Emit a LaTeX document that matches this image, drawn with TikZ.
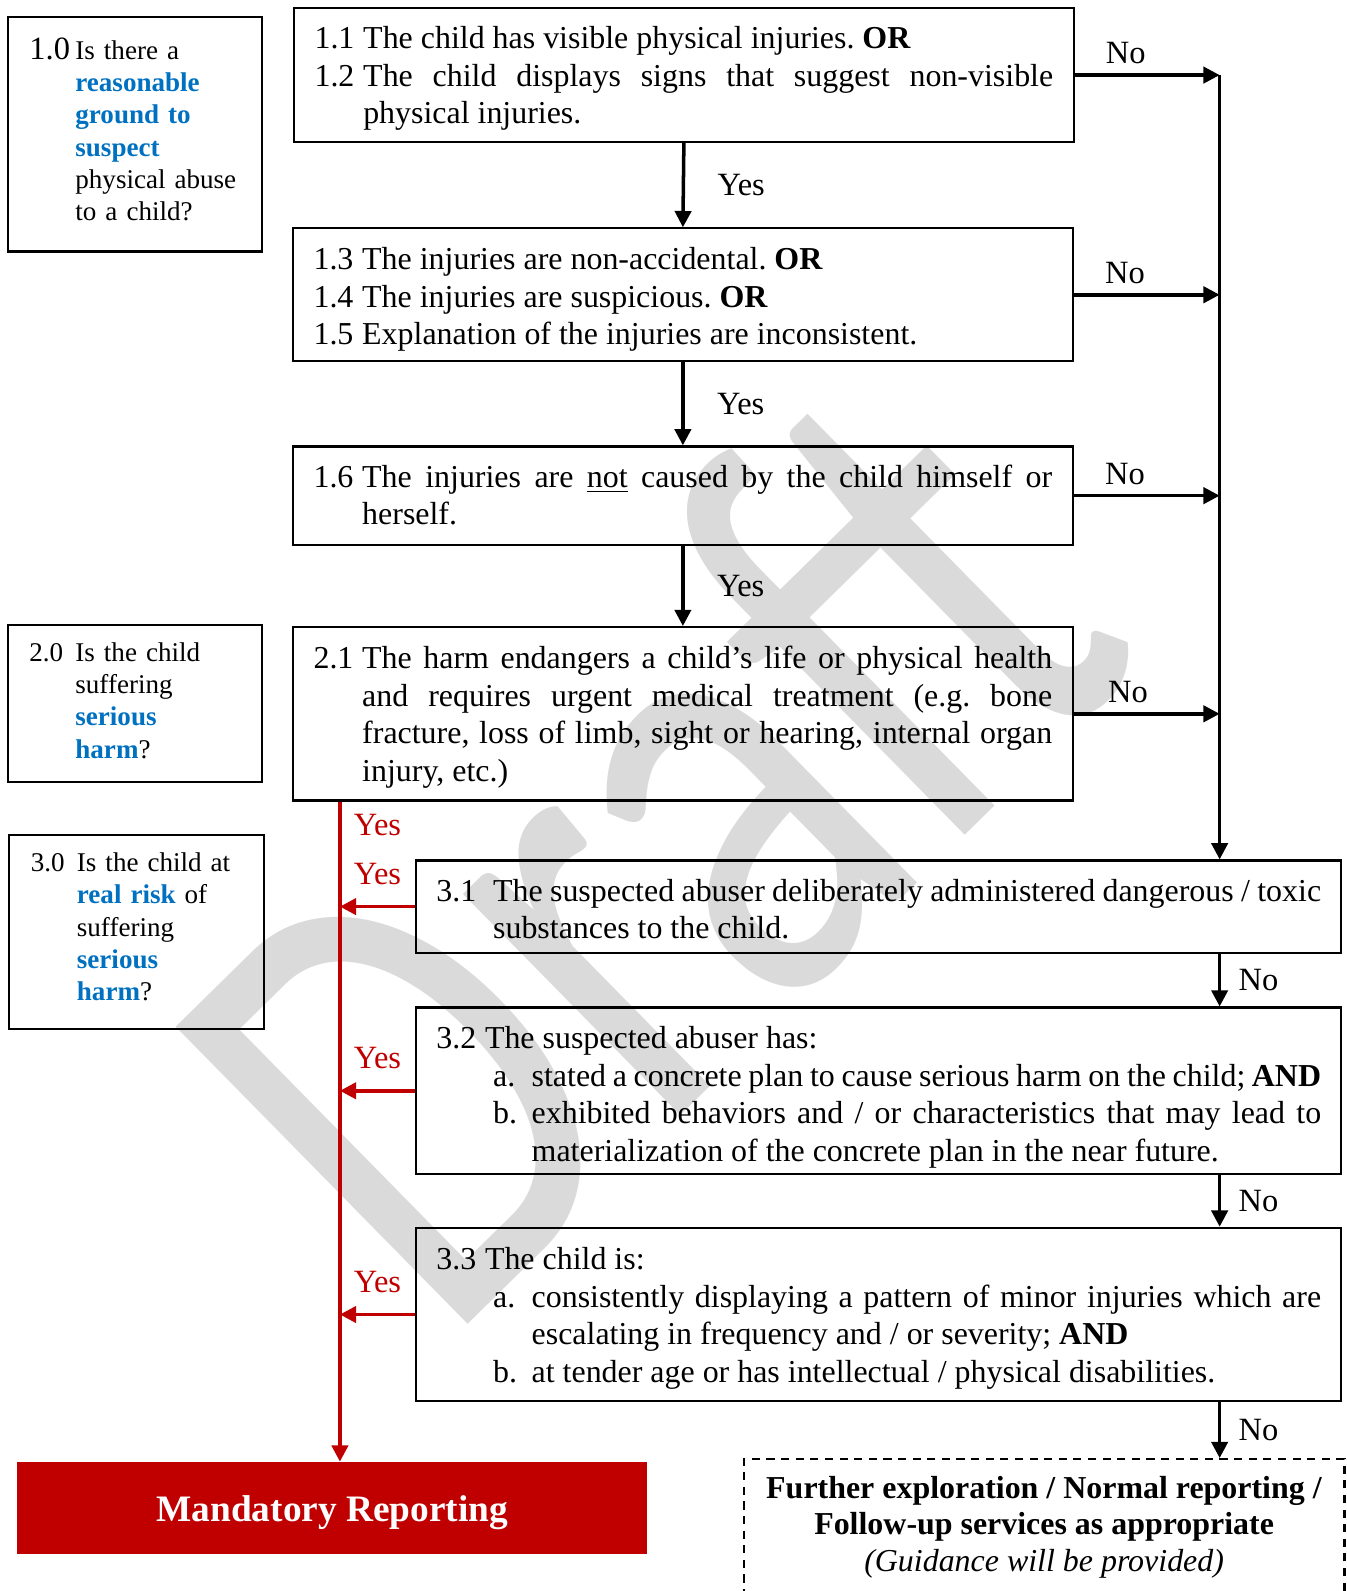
\documentclass[tikz,border=0pt]{standalone}
\usepackage{fontspec}
\setmainfont{Liberation Serif}
\newfontfamily\wmfont[FakeStretch=0.75]{Carlito}
\usetikzlibrary{positioning,arrows.meta}

\definecolor{keyblue}{RGB}{0,112,192}
\definecolor{mrred}{RGB}{192,0,0}
\definecolor{wmgray}{RGB}{218,218,218}

\hyphenpenalty=10000
\exhyphenpenalty=10000
\frenchspacing

\newcommand{\kw}[1]{\textcolor{keyblue}{\textbf{#1}}}
\newcommand{\itm}[3][18pt]{\par\noindent\hangindent=#1\hangafter=1\makebox[#1][l]{#2}#3\par}
\newcommand{\subitm}[2]{\par\noindent\hangindent=35.25pt\hangafter=1\makebox[35.25pt][l]{\hspace{21pt}#1}#2\par}
\newcommand{\tail}[1]{\par\nointerlineskip\vskip#1\hbox{}}

\tikzset{
  mbox/.style={draw, line width=0.8pt, text width=273pt, minimum width=288.4pt,
    inner xsep=7.7pt, inner ysep=0pt, align=justify, font=\fontsize{11.8}{13.9}\selectfont},
  wbox/.style={mbox, text width=327pt, minimum width=342pt, inner xsep=7.5pt},
  qbox/.style={draw, line width=0.9pt, text width=78pt, minimum width=93.75pt,
    inner xsep=7.8pt, inner ysep=0pt, align=left, font=\fontsize{10}{11.9}\selectfont},
  mrbox/.style={fill=mrred, text=white, minimum width=232.9pt, minimum height=34.1pt,
    inner sep=0pt, text depth=0pt, font=\fontsize{13.8}{16}\selectfont\bfseries},
  fubox/.style={draw, dashed, dash pattern=on 3pt off 2.4pt, line width=0.8pt,
    minimum width=222pt, minimum height=75pt, anchor=north},
  futext/.style={align=center, inner sep=0pt, font=\fontsize{11.8}{13.5}\selectfont},
  arr/.style={line width=1.3pt, -{Triangle[length=6pt,width=6pt]}},
  redarr/.style={arr, color=mrred},
  lbl/.style={inner sep=0pt},
  redlbl/.style={lbl, text=mrred},
  wmark/.style={text=wmgray, font=\wmfont\fontsize{240}{240}\selectfont,
    rotate=44.5, anchor=base, inner sep=0pt},
}

\begin{document}
\begin{tikzpicture}[x=0.375pt, y=-0.375pt, font=\fontsize{12}{13.9}\selectfont]
\useasboundingbox (0,0) rectangle (1327.5,1568);

% watermark
\node[wmark] (wm) at (786,986) {Draft};

% questions on the left
\node[qbox, minimum height=86.6pt] (l10) at (133,132.5) {\noindent\makebox[17pt][l]{\fontsize{12}{11.9}\selectfont 1.0}Is there a\par
  \leftskip=17pt \kw{reasonable}\par \kw{ground to}\par \kw{suspect}\par physical abuse\par to a child?\tail{3.75pt}};
\node[qbox, minimum height=58.1pt] (l20) at (133,693.5) {\noindent\makebox[17pt][l]{2.0}Is the child\par
  \leftskip=17pt suffering\par \kw{serious}\par \kw{harm}?\tail{2.25pt}};
\node[qbox, minimum height=71.6pt, minimum width=94.1pt] (l30) at (134.5,918.5) {\noindent\makebox[17pt][l]{3.0}Is the child at\par
  \leftskip=17pt \kw{real risk} of\par suffering\par \kw{serious}\par \kw{harm}?\tail{3.75pt}};

% criteria
\node[mbox, minimum height=49.5pt] (q11) at (674,74) {%
  \itm{1.1}{The child has visible physical injuries. \textbf{OR}}%
  \itm{1.2}{The child displays signs that suggest non-visible\linebreak physical injuries.}\tail{3pt}};
\node[mbox, minimum height=49.1pt] (q13) at (673,290.5) {%
  \itm{1.3}{The injuries are non-accidental. \textbf{OR}}%
  \itm{1.4}{The injuries are suspicious. \textbf{OR}}%
  \itm{1.5}{Explanation of the injuries are inconsistent.}\tail{2.25pt}};
\node[mbox, minimum height=36.4pt] (q16) at (673,488.5) {%
  \itm{1.6}{The injuries are \underline{not} caused by the child himself or\linebreak herself.}\tail{6pt}};
\node[mbox, minimum height=64.1pt] (q21) at (673,703.5) {%
  \itm{2.1}{The harm endangers a child's life or physical health\linebreak and requires urgent medical treatment (e.g. bone\linebreak fracture, loss of limb, sight or hearing, internal organ\linebreak injury, etc.)}\tail{3pt}};
\node[wbox, minimum height=34.1pt] (q31) at (866,893.5) {%
  \itm[21pt]{3.1}{The suspected abuser deliberately administered dangerous / toxic\linebreak substances to the child.}\tail{3.75pt}};
\node[wbox, minimum height=61.5pt] (q32) at (866,1075) {%
  \itm{3.2}{The suspected abuser has:}%
  \subitm{a.}{stated a concrete plan to cause serious harm on the child; \textbf{AND}}%
  \subitm{b.}{exhibited behaviors and / or characteristics that may lead to\linebreak materialization of the concrete plan in the near future.}\tail{0.75pt}};
\node[wbox, minimum height=64.1pt] (q33) at (866,1295.5) {%
  \itm{3.3}{The child is:}%
  \subitm{a.}{consistently displaying a pattern of minor injuries which are\linebreak escalating in frequency and / or severity; \textbf{AND}}%
  \subitm{b.}{at tender age or has intellectual / physical disabilities.}\tail{3pt}};

% outcomes
\node[mrbox] (mr) at (327.5,1486.5) {Mandatory Reporting};
\node[fubox] (fu) at (1029,1437) {};
\node[futext] (fut) at (1029,1505) {\textbf{Further exploration / Normal reporting /}\\
  \textbf{Follow-up services as appropriate}\\ \textit{(Guidance will be provided)}};

% rails
\coordinate (rt) at (1202,74);
\coordinate (rl) at (335,0);

% yes path
\draw[arr] (q11.south) -- node[lbl, right=12pt] {Yes} (q13.north);
\draw[arr] (q13.south) -- node[lbl, right=12pt] {Yes} (q16.north);
\draw[arr] (q16.south) -- node[lbl, right=12pt] {Yes} (q21.north);

% no path
\draw[arr] (q11.east) -- node[lbl, pos=0.35, above=3.5pt] {No} (q11.east -| rt);
\draw[arr] (q13.east) -- node[lbl, pos=0.35, above=3.5pt] {No} (q13.east -| rt);
\draw[arr] (q16.east) -- node[lbl, pos=0.35, above=3.5pt] {No} (q16.east -| rt);
\draw[arr] (q21.east) -- node[lbl, pos=0.37, above=3.5pt] {No} (q21.east -| rt);
\draw[arr] (rt) -- (q31.north -| rt);
\draw[arr] (q31.south -| rt) -- node[lbl, right=6.4pt] {No} (q32.north -| rt);
\draw[arr] (q32.south -| rt) -- node[lbl, right=6.4pt] {No} (q33.north -| rt);
\draw[arr] (q33.south -| rt) -- node[lbl, right=6.4pt] {No} (fu.north -| rt);

% mandatory reporting
\draw[redarr] (q21.south -| rl) -- node[redlbl, pos=0.036, right=4.5pt] {Yes} (mr.north -| rl);
\draw[redarr] (q31.west) -- node[redlbl, above=7.5pt] {Yes} (q31.west -| rl);
\draw[redarr] (q32.west) -- node[redlbl, above=7.5pt] {Yes} (q32.west -| rl);
\draw[redarr] (q33.west) -- node[redlbl, above=7.5pt] {Yes} (q33.west -| rl);
\end{tikzpicture}
\end{document}
